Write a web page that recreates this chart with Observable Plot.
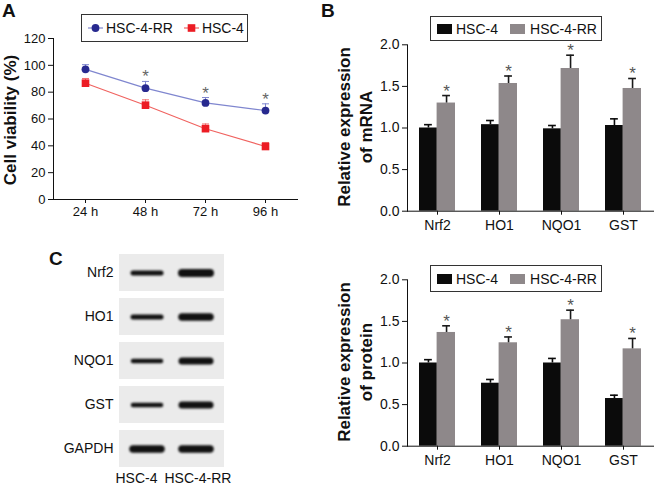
<!DOCTYPE html>
<html><head><meta charset="utf-8">
<script src="https://cdn.jsdelivr.net/npm/d3@7"></script>
<script src="https://cdn.jsdelivr.net/npm/@observablehq/plot@0.6"></script>
<style>
body{margin:0;background:#fff;}
#root{position:relative;width:656px;height:486px;overflow:hidden;font-family:"Liberation Sans",Arial,sans-serif;color:#111;background:#fff;}
.letter{position:absolute;font-weight:bold;font-size:19px;line-height:19px;}
.ylab{position:absolute;font-weight:bold;font-size:17px;white-space:nowrap;text-align:center;line-height:22px;transform:translate(-50%,-50%) rotate(-90deg);}
.legend{position:absolute;border:1px solid #333;box-sizing:border-box;display:flex;align-items:center;font-size:14px;background:#fff;padding-left:6px;}
.legend .sw{display:inline-block;}
</style>
</head><body><div id="root"></div>
<script>
// ---------- Data ----------
const timeLabels = ["24 h", "48 h", "72 h", "96 h"];
const rrViability = [97, 83, 72, 66.3];
const rrViabilityErr = [3.5, 5, 4, 5];
const hscViability = [86.7, 70.3, 52.8, 39.5];
const hscViabilityErr = [3.5, 4, 3.5, 3];
const sigA = [false, true, true, true];
const viabilityTicks = [0, 20, 40, 60, 80, 100, 120];

const genes = ["Nrf2", "HO1", "NQO1", "GST"];
const mrnaHSC = [1.00, 1.04, 0.99, 1.03];
const mrnaHSCErr = [0.04, 0.05, 0.04, 0.08];
const mrnaRR = [1.30, 1.535, 1.715, 1.475];
const mrnaRRErr = [0.09, 0.09, 0.16, 0.12];
const protHSC = [1.00, 0.757, 1.00, 0.573];
const protHSCErr = [0.04, 0.045, 0.055, 0.04];
const protRR = [1.367, 1.243, 1.52, 1.17];
const protRRErr = [0.08, 0.07, 0.115, 0.125];
const exprTicks = [0, 0.5, 1.0, 1.5, 2.0];

const blotProteins = ["Nrf2", "HO1", "NQO1", "GST", "GAPDH"];
const blotLanes = ["HSC-4", "HSC-4-RR"];
const bandHSC = [5, 5, 4.5, 4.5, 7.5];
const bandRR = [8, 7.5, 7, 7, 7.5];

// ---------- Helpers ----------
const root = document.getElementById("root");
const FONT = "'Liberation Sans', Arial, sans-serif";
function place(el, left, top) {
  el.style.position = "absolute"; el.style.left = left + "px"; el.style.top = top + "px";
  root.appendChild(el); return el;
}
function div(cls, html, left, top, extra) {
  const d = document.createElement("div"); d.className = cls; d.innerHTML = html;
  d.style.left = left + "px"; d.style.top = top + "px";
  if (extra) Object.assign(d.style, extra);
  root.appendChild(d); return d;
}
const capSymbol = {draw(ctx, size) { const r = Math.sqrt(size / Math.PI); ctx.moveTo(-r, 0); ctx.lineTo(r, 0); }};

// ---------- Panel A ----------
const rowsRR = timeLabels.map((t, i) => ({t, v: rrViability[i], e: rrViabilityErr[i], sig: sigA[i]}));
const rowsHSC = timeLabels.map((t, i) => ({t, v: hscViability[i], e: hscViabilityErr[i]}));
const blueDot = "#27298f", blueLine = "#7f86cf", redDot = "#ec1c24", redLine = "#f0625f";

const plotA = Plot.plot({
  width: 310, height: 225, marginLeft: 53, marginTop: 38, marginBottom: 26, marginRight: 13,
  style: {fontFamily: FONT, fontSize: "13px", color: "#111", background: "transparent", overflow: "visible"},
  x: {type: "point", domain: timeLabels, padding: 0.53, label: null},
  y: {domain: [0, 120], label: null},
  marks: [
    Plot.frame({anchor: "left", stroke: "#111"}),
    Plot.frame({anchor: "bottom", stroke: "#111"}),
    Plot.axisY({ticks: viabilityTicks, tickSize: 5, tickPadding: 3, fontSize: 13}),
    Plot.axisX({tickSize: 4, tickPadding: 3, fontSize: 13}),
    Plot.line(rowsHSC, {x: "t", y: "v", stroke: redLine, strokeWidth: 1.1}),
    Plot.line(rowsRR, {x: "t", y: "v", stroke: blueLine, strokeWidth: 1.1}),
    Plot.ruleX(rowsHSC, {x: "t", y1: "v", y2: d => d.v + d.e, stroke: "#f07070", strokeWidth: 1}),
    Plot.dot(rowsHSC, {x: "t", y: d => d.v + d.e, symbol: capSymbol, r: 3.5, stroke: "#f07070", strokeWidth: 1, fill: "none"}),
    Plot.ruleX(rowsRR, {x: "t", y1: "v", y2: d => d.v + d.e, stroke: "#7f86cf", strokeWidth: 1}),
    Plot.dot(rowsRR, {x: "t", y: d => d.v + d.e, symbol: capSymbol, r: 3.5, stroke: "#7f86cf", strokeWidth: 1, fill: "none"}),
    Plot.dot(rowsHSC, {x: "t", y: "v", symbol: "square", r: 4.3, fill: redDot, stroke: "none"}),
    Plot.dot(rowsRR, {x: "t", y: "v", symbol: "circle", r: 3.9, fill: blueDot, stroke: "none"}),
    Plot.text(rowsRR.filter(d => d.sig), {x: "t", y: d => d.v + d.e, text: () => "*", lineAnchor: "bottom", dy: 1, fontSize: 17, fill: "#666"})
  ]
});
place(plotA, 0, 0);

// ---------- Panel B ----------
function barPanel(hv, he, rv, re, top, height, mt, mb) {
  const xs = {type: "band", domain: genes, range: [87, 333], paddingInner: 0.42, paddingOuter: 0.18};
  const half = Plot.scale({x: xs}).bandwidth / 2;
  const hRows = genes.map((g, i) => ({g, v: hv[i], e: he[i]}));
  const rRows = genes.map((g, i) => ({g, v: rv[i], e: re[i]}));
  const p = Plot.plot({
    width: 336, height, marginLeft: 87, marginRight: 3, marginTop: mt, marginBottom: mb,
    style: {fontFamily: FONT, fontSize: "14px", color: "#111", background: "transparent", overflow: "visible"},
    x: {type: "band", domain: genes, paddingInner: 0.42, paddingOuter: 0.18, label: null},
    y: {domain: [0, 2], label: null},
    marks: [
      Plot.barY(hRows, {x: "g", y: "v", fill: "#0b0b0b", insetLeft: 0, insetRight: half}),
      Plot.barY(rRows, {x: "g", y: "v", fill: "#8e888a", insetLeft: half - 0.5, insetRight: 0}),
      Plot.ruleX(hRows, {x: "g", y1: "v", y2: d => d.v + d.e, dx: -half / 2, stroke: "#0b0b0b", strokeWidth: 1.6}),
      Plot.tickY(hRows, {x: "g", y: d => d.v + d.e, insetLeft: half / 2 - 4, insetRight: half * 1.5 - 4, stroke: "#0b0b0b", strokeWidth: 1.6}),
      Plot.ruleX(rRows, {x: "g", y1: "v", y2: d => d.v + d.e, dx: half / 2, stroke: "#1a1a1a", strokeWidth: 1.6}),
      Plot.tickY(rRows, {x: "g", y: d => d.v + d.e, insetLeft: half * 1.5 - 4, insetRight: half / 2 - 4, stroke: "#1a1a1a", strokeWidth: 1.6}),
      Plot.text(rRows, {x: "g", y: d => d.v + d.e, text: () => "*", dx: half / 2, lineAnchor: "bottom", dy: 1, fontSize: 17, fill: "#555"}),
      Plot.frame({anchor: "left", stroke: "#111"}),
      Plot.frame({anchor: "bottom", stroke: "#111"}),
      Plot.axisY({ticks: exprTicks, tickFormat: d3.format(".1f"), tickSize: 5, tickPadding: 3, fontSize: 14}),
      Plot.axisX({tickSize: 4, tickPadding: 5, fontSize: 14})
    ]
  });
  place(p, 320, top);
}
barPanel(mrnaHSC, mrnaHSCErr, mrnaRR, mrnaRRErr, 0, 240, 44.3, 29.3);
barPanel(protHSC, protHSCErr, protRR, protRRErr, 240, 246, 39.3, 40.3);

// ---------- Panel C ----------
const blotRows = [];
blotProteins.forEach((p, i) => {
  blotRows.push({p, lane: blotLanes[0], w: bandHSC[i]});
  blotRows.push({p, lane: blotLanes[1], w: bandRR[i]});
});
const plotC = Plot.plot({
  width: 245, height: 246, marginLeft: 119, marginRight: 21, marginTop: 12, marginBottom: 17,
  style: {fontFamily: FONT, fontSize: "14px", color: "#111", background: "transparent", overflow: "visible"},
  x: {type: "band", domain: blotLanes, paddingInner: 0.224, paddingOuter: 0.18, label: null},
  y: {type: "band", domain: blotProteins, paddingInner: 0.167, paddingOuter: 0, label: null},
  marks: [
    Plot.cell(blotProteins, {y: d => d, fill: "#ebebeb"}),
    Plot.tickY(blotRows, {x: "lane", y: "p", strokeWidth: "w", stroke: "#111", strokeLinecap: "round", inset: 5, imageFilter: "blur(0.9px)"}),
    Plot.axisY({tickSize: 0, tickPadding: 6, fontSize: 14}),
    Plot.axisX({ticks: [blotLanes[0]], tickSize: 0, tickPadding: 4, fontSize: 14, textAnchor: "end", dx: 10}),
    Plot.axisX({ticks: [blotLanes[1]], tickSize: 0, tickPadding: 4, fontSize: 14, textAnchor: "start", dx: -32})
  ]
});
place(plotC, 0, 240);

// ---------- Labels & legends ----------
div("letter", "A", 2, 1);
div("letter", "B", 321, 1);
div("letter", "C", 49, 249);
div("ylab", "Cell viability (%)", 11, 120);
div("ylab", "Relative expression<br>of mRNA", 356, 127);
div("ylab", "Relative expression<br>of protein", 356, 362);

function legendA() {
  const d = div("legend", "", 81, 14, {width: "167px", height: "28px"});
  d.innerHTML =
    `<svg class="sw" width="15" height="12"><line x1="0" x2="15" y1="6" y2="6" stroke="${blueLine}" stroke-width="1.2"/><circle cx="7.5" cy="6" r="3.9" fill="${blueDot}"/></svg>` +
    `<span style="margin-left:3px">HSC-4-RR</span>` +
    `<svg class="sw" width="15" height="12" style="margin-left:11px"><line x1="0" x2="15" y1="6" y2="6" stroke="${redLine}" stroke-width="1.2"/><rect x="3.7" y="2.2" width="7.6" height="7.6" fill="${redDot}"/></svg>` +
    `<span style="margin-left:3px">HSC-4</span>`;
}
function legendB(top, h) {
  const d = div("legend", "", 430, top, {width: "172px", height: h + "px"});
  d.innerHTML =
    `<span class="sw" style="width:15px;height:10px;background:#0b0b0b"></span>` +
    `<span style="margin-left:4px">HSC-4</span>` +
    `<span class="sw" style="width:15px;height:10px;background:#8e888a;margin-left:12px"></span>` +
    `<span style="margin-left:5px">HSC-4-RR</span>`;
}
legendA();
legendB(16, 25);
legendB(265, 27);
</script></body></html>
